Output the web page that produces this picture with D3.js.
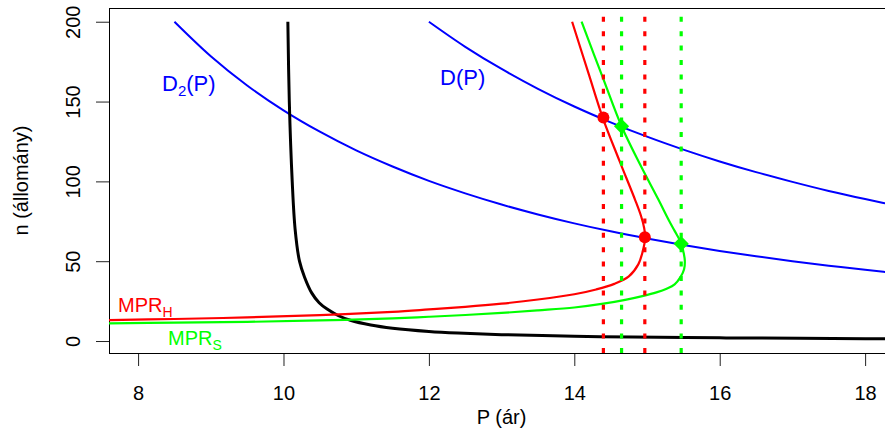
<!DOCTYPE html>
<html>
<head>
<meta charset="utf-8">
<script src="https://cdn.jsdelivr.net/npm/d3@7"></script>
<style>
    body { margin: 0; background: #fff; }
    text { font-family: "Liberation Sans", Arial, sans-serif; }
</style>
</head>
<body>
<div id="chart"></div>
<script>
// values: P (ár) and n (állomány)
const demandP = [12, 12.5, 13, 13.5, 14, 14.5, 15, 15.5, 16, 16.5, 17, 17.5, 18, 18.6];
const demandN = [200, 184.3, 170.4, 158, 146.9, 137, 128, 119.9, 112.5, 105.8, 99.7, 94, 88.9, 83.3];

const demand2P = [8.5, 9, 9.5, 10, 10.5, 11, 11.5, 12, 12.5, 13, 13.5, 14, 14.5, 15, 15.5, 16, 16.5, 17, 17.5, 18, 18.6];
const demand2N = [200, 178.4, 160.1, 144.5, 131.1, 119.4, 109.3, 100.3, 92.5, 85.5, 79.3, 73.7, 68.7, 64.2, 60.1, 56.4, 53.1, 50, 47.2, 44.6, 41.8];

const supplyP = [10.06, 10.08, 10.12, 10.16, 10.22, 10.29, 10.39, 10.49, 10.6, 10.75, 10.92, 11.2, 11.5, 12, 12.4, 13, 14, 14.8, 16, 17.1, 18, 18.6];
const supplyN = [200, 150, 100, 70, 50, 40, 30, 24, 20, 16, 13, 10, 8, 6, 5, 4, 3, 2.5, 2, 1.7, 1.5, 1.4];

const mprHP = [7.6, 8.5, 9.5, 10.5, 11.5, 12, 12.5, 13, 13.5, 14, 14.3, 14.55, 14.75, 14.88, 14.94, 14.975, 14.96, 14.92, 14.84, 14.62, 14.39, 14.2, 13.97];
const mprHN = [13.1, 13.8, 14.8, 16.2, 18.3, 19.8, 21.4, 23.4, 26, 29.3, 32.3, 35.8, 40.5, 48, 56, 65, 71, 78, 88, 113, 140, 167, 200];

const mprSP = [7.6, 8.5, 9.5, 10.5, 11.5, 12, 12.5, 13, 13.5, 14, 14.4, 14.7, 14.95, 15.13, 15.27, 15.38, 15.46, 15.51, 15.52, 15.5, 15.47, 15.38, 15.3, 15.16, 14.9, 14.65, 14.4, 14.1];
const mprSN = [11.1, 11.5, 12, 12.9, 14.2, 15.2, 16.3, 17.6, 19.2, 21, 23.4, 25.8, 28.3, 30.5, 32.8, 35.5, 40, 45, 50.5, 56, 61.3, 69, 75.7, 88.3, 111, 134.5, 164, 200];

// equilibrium points and their price lines
const eqHP = [14.4, 14.97];
const eqHN = [140, 65];
const eqSP = [14.65, 15.47];
const eqSN = [134.5, 61];

const xTicks = [8, 10, 12, 14, 16, 18];
const yTicks = [0, 50, 100, 150, 200];

const svg = d3.select("#chart")
    .append("svg")
    .attr("width", 885)
    .attr("height", 435);

const x = d3.scaleLinear().domain([7.6, 18.4]).range([109, 894.2]);
const y = d3.scaleLinear().domain([-7.5, 208.6]).range([353, 8]);

svg.append("clipPath")
    .attr("id", "plotClip")
    .append("rect")
    .attr("x", x.range()[0])
    .attr("y", y.range()[1])
    .attr("width", x.range()[1] - x.range()[0])
    .attr("height", y.range()[0] - y.range()[1]);

// axes
const xAxis = d3.axisBottom(x).tickValues(xTicks).tickSize(13).tickPadding(20).tickSizeOuter(0);
const yAxis = d3.axisLeft(y).tickValues(yTicks).tickSize(13).tickSizeOuter(0);

const gx = svg.append("g")
    .attr("transform", `translate(0,${y.range()[0]})`)
    .call(xAxis);
gx.select(".domain").remove();
gx.selectAll("text").attr("font-size", "20px").attr("fill", "#000").style("font-family", "Liberation Sans, Arial, sans-serif");
gx.selectAll("line").attr("stroke", "#222");

const gy = svg.append("g")
    .attr("transform", `translate(${x.range()[0]},0)`)
    .call(yAxis);
gy.select(".domain").remove();
gy.selectAll("line").attr("stroke", "#222");
gy.selectAll("text")
    .attr("x", null)
    .attr("dy", null)
    .attr("transform", "translate(-29,0) rotate(-90)")
    .attr("text-anchor", "middle")
    .attr("font-size", "20px")
    .attr("fill", "#000")
    .style("font-family", "Liberation Sans, Arial, sans-serif");

// box
svg.append("rect")
    .attr("x", x.range()[0] + 0.5)
    .attr("y", y.range()[1] + 0.5)
    .attr("width", x.range()[1] - x.range()[0])
    .attr("height", y.range()[0] - y.range()[1])
    .attr("fill", "none")
    .attr("stroke", "#000")
    .attr("stroke-width", 1);

svg.append("text")
    .attr("x", (x.range()[0] + x.range()[1]) / 2)
    .attr("y", 424)
    .attr("text-anchor", "middle")
    .attr("font-size", "20px")
    .text("P (ár)");

svg.append("text")
    .attr("transform", `translate(28,${(y.range()[0] + y.range()[1]) / 2}) rotate(-90)`)
    .attr("text-anchor", "middle")
    .attr("font-size", "20px")
    .text("n (állomány)");

// curves
const plot = svg.append("g").attr("clip-path", "url(#plotClip)");
const line = d3.line()
    .x(d => x(d[0]))
    .y(d => y(d[1]))
    .curve(d3.curveCatmullRom.alpha(0.5));

const curves = [
    {P: demandP, N: demandN, color: "#0000ff", width: 2},
    {P: demand2P, N: demand2N, color: "#0000ff", width: 2},
    {P: supplyP, N: supplyN, color: "#000000", width: 3},
    {P: mprHP, N: mprHN, color: "#ff0000", width: 2.2},
    {P: mprSP, N: mprSN, color: "#00ff00", width: 2.2}
];

plot.selectAll(".curve")
    .data(curves)
    .enter()
    .append("path")
    .attr("class", "curve")
    .attr("d", c => line(d3.zip(c.P, c.N)))
    .attr("fill", "none")
    .attr("stroke", c => c.color)
    .attr("stroke-width", c => c.width);

// dotted price lines
const vlines = eqHP.map(p => ({p: p, color: "#ff0000"}))
    .concat(eqSP.map(p => ({p: p, color: "#00ff00"})));

plot.selectAll(".vline")
    .data(vlines)
    .enter()
    .append("line")
    .attr("class", "vline")
    .attr("x1", d => x(d.p))
    .attr("x2", d => x(d.p))
    .attr("y1", y.range()[0])
    .attr("y2", y.range()[1])
    .attr("stroke", d => d.color)
    .attr("stroke-width", 3.2)
    .attr("stroke-dasharray", "5,9.4");

// equilibrium markers
plot.selectAll(".eqH")
    .data(d3.zip(eqHP, eqHN))
    .enter()
    .append("circle")
    .attr("class", "eqH")
    .attr("cx", d => x(d[0]))
    .attr("cy", d => y(d[1]))
    .attr("r", 6)
    .attr("fill", "#ff0000");

plot.selectAll(".eqS")
    .data(d3.zip(eqSP, eqSN))
    .enter()
    .append("path")
    .attr("class", "eqS")
    .attr("d", d3.symbol(d3.symbolSquare, 115))
    .attr("transform", d => `translate(${x(d[0])},${y(d[1])}) rotate(45)`)
    .attr("fill", "#00ff00");

// curve labels
function subLabel(px, py, main, sub, rest, color, size) {
    const t = svg.append("text")
        .attr("x", px)
        .attr("y", py)
        .attr("font-size", size + "px")
        .attr("fill", color);
    t.append("tspan").text(main);
    t.append("tspan").attr("font-size", Math.round(size * 0.7) + "px").attr("dy", 5).text(sub);
    if (rest) t.append("tspan").attr("dy", -5).text(rest);
}

subLabel(162, 91, "D", "2", "(P)", "#0000ff", 22);
svg.append("text")
    .attr("x", 440)
    .attr("y", 85)
    .attr("font-size", "22px")
    .attr("fill", "#0000ff")
    .text("D(P)");
subLabel(118, 312, "MPR", "H", null, "#ff0000", 20);
subLabel(168, 345, "MPR", "S", null, "#00ff00", 20);
</script>
</body>
</html>
